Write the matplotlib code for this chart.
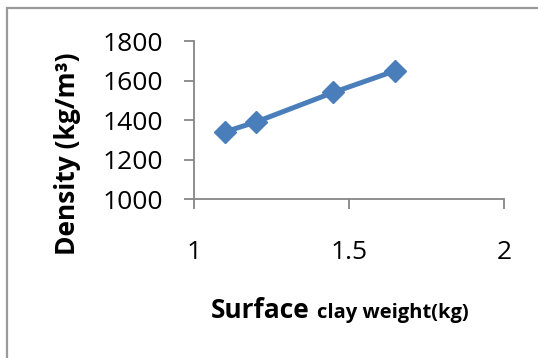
import matplotlib
matplotlib.use("Agg")
import matplotlib.pyplot as plt
from matplotlib.patches import Rectangle

# data
clay_weight = [1.1, 1.2, 1.45, 1.65]
density = [1340, 1390, 1540, 1650]

x_ticks = [1, 1.5, 2]
x_tick_labels = ["1", "1.5", "2"]
y_ticks = [1000, 1200, 1400, 1600, 1800]

plt.rcParams['font.family'] = ['Open Sans', 'DejaVu Sans']

W, H = 538, 358
fig = plt.figure(figsize=(W / 100, H / 100), dpi=100)

# outer gray frame (cut off at right and bottom in the reference)
fig.patches.append(Rectangle((7 / W, -0.1), 1.2, (H - 8) / H + 0.1,
                             transform=fig.transFigure, fill=False,
                             edgecolor="#9a9a9a", linewidth=1.6))

ax = fig.add_axes([194 / W, 1 - 199 / H, 310 / W, 158 / H])
ax.plot(clay_weight, density, color="#4A7EBB", linewidth=3.6,
        marker="D", markersize=11, markeredgewidth=1, clip_on=False)

ax.set_xlim(1, 2)
ax.set_ylim(1000, 1800)
ax.set_xticks(x_ticks)
ax.set_xticklabels(x_tick_labels)
ax.set_yticks(y_ticks)

for side in ["top", "right"]:
    ax.spines[side].set_visible(False)
for side in ["left", "bottom"]:
    ax.spines[side].set_color("#868686")
    ax.spines[side].set_linewidth(1.3)

ax.tick_params(axis="both", direction="out", length=7.5, width=1.3,
               color="#868686", labelsize=19, labelcolor="black")
ax.tick_params(axis="x", pad=22)
ax.tick_params(axis="y", pad=15)

# axis titles
fig.text(0.125, 1 - 154 / H, "Density (kg/m³)", rotation=90,
         ha="center", va="center", fontsize=19, fontweight="bold")
fig.text(310 / W, 1 - 318 / H, "Surface", ha="right", va="baseline",
         fontsize=19, fontweight="bold")
fig.text(317 / W, 1 - 318 / H, "clay weight(kg)", ha="left", va="baseline",
         fontsize=14.5, fontweight="bold")

fig.savefig("out.png", dpi=100)
